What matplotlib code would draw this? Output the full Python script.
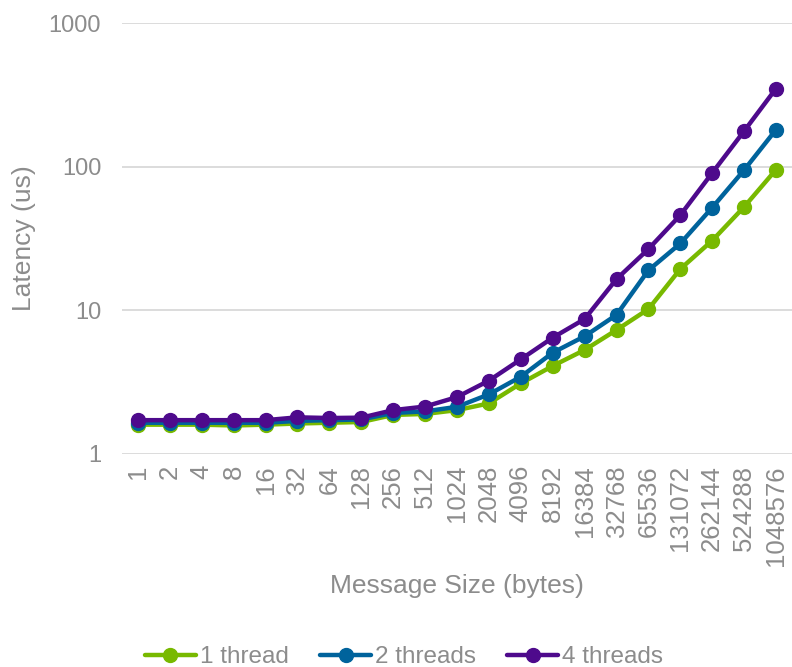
import matplotlib
matplotlib.use("Agg")
import matplotlib.pyplot as plt
import numpy as np

sizes = ["1", "2", "4", "8", "16", "32", "64", "128", "256", "512", "1024", "2048",
         "4096", "8192", "16384", "32768", "65536", "131072", "262144", "524288", "1048576"]
one_thread = [1.60, 1.60, 1.60, 1.58, 1.60, 1.63, 1.65, 1.67, 1.87, 1.90, 2.02, 2.25,
              3.1, 4.1, 5.3, 7.3, 10.2, 19.4, 30.6, 52.5, 95.4]
two_threads = [1.65, 1.65, 1.65, 1.65, 1.65, 1.70, 1.72, 1.74, 1.93, 1.98, 2.13, 2.6,
               3.45, 5.07, 6.6, 9.3, 19.0, 29.2, 51.9, 94.8, 181]
four_threads = [1.72, 1.72, 1.72, 1.72, 1.72, 1.80, 1.78, 1.79, 2.02, 2.14, 2.49, 3.24,
                4.56, 6.45, 8.7, 16.5, 26.7, 46, 90.5, 177, 350]
series_names = ["1 thread", "2 threads", "4 threads"]
colors = ["#78B900", "#00639C", "#4E0A8C"]

plt.rcParams['font.family'] = ['Liberation Sans', 'DejaVu Sans']
gray = "#8C8C8C"

fig = plt.figure(figsize=(7.92, 6.67), dpi=100)
ax = fig.add_axes([122/792, 1-454/667, (792-122)/792, (454-23)/667])
x = np.arange(len(sizes))
for vals, name, c in zip([one_thread, two_threads, four_threads], series_names, colors):
    ax.plot(x, vals, color=c, lw=3.2, marker='o', ms=10, label=name, solid_capstyle='round')

ax.set_yscale('log')
ax.set_ylim(1, 1000)
ax.set_xlim(-0.5, len(sizes) - 0.5)
ax.set_yticks([1, 10, 100, 1000])
ax.set_yticklabels(["1", "10", "100", "1000"])
ax.yaxis.set_minor_locator(matplotlib.ticker.NullLocator())
ax.set_xticks(x)
ax.set_xticklabels(sizes, rotation=90)
ax.tick_params(axis='both', length=0, colors=gray)
ax.tick_params(axis='y', pad=15, labelsize=17)
ax.tick_params(axis='x', pad=8, labelsize=18.5)
for s in ax.spines.values():
    s.set_visible(False)
ax.grid(axis='y', color="#D9D9D9", lw=1.3)
ax.set_axisbelow(True)
ax.set_xlabel("Message Size (bytes)", color=gray, fontsize=19, labelpad=6)
ax.set_ylabel("Latency (us)", color=gray, fontsize=19, labelpad=9)

leg = fig.legend(loc='lower center', bbox_to_anchor=(0.51, -0.035), ncol=3, frameon=False,
                 fontsize=17.5, handlelength=2.1, handletextpad=0.15, columnspacing=1.3)
for t in leg.get_texts():
    t.set_color(gray)

fig.savefig("out.png", dpi=100)
